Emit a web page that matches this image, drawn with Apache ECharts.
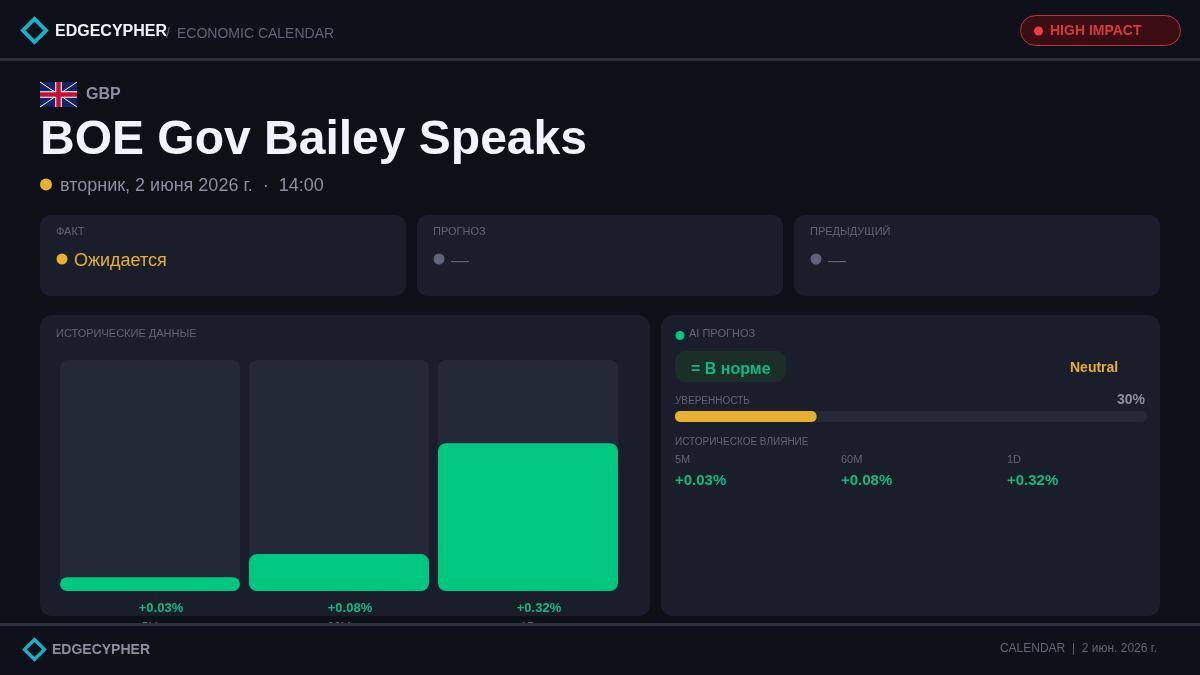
<!DOCTYPE html>
<html>
<head>
<meta charset="utf-8">
<script src="https://cdn.jsdelivr.net/npm/echarts@6/dist/echarts.min.js"></script>
<style>html,body{margin:0;padding:0;background:#0d1017}#c{width:1200px;height:675px}</style>
</head>
<body>
<div id="c"></div>
<script>
const periods = ['5M', '60M', '1D'];
const impactValues = [0.03, 0.08, 0.32];
const impactMax = 0.5;
const confidenceLabel = ['УВЕРЕННОСТЬ'];
const confidenceValues = [30];
const statLabels = ['ФАКТ', 'ПРОГНОЗ', 'ПРЕДЫДУЩИЙ'];
const statTexts = ['Ожидается', '—', '—'];

const FONT = '"Liberation Sans", Arial, sans-serif';
const fmt = v => '+' + v.toFixed(2) + '%';
const GREEN = '#00c880', GREENT = '#10b981', GOLD = '#e8b030', TEAL = '#12b5c9';
const MUTED = '#5f6575', SOFT = '#8b90a0', CARD = '#1a1e2a', TRACK = '#232937';

const txt = (text, x, y, size, fill, opt = {}) => ({
  type: 'text', z: opt.z || 5,
  style: { text, x, y: y + 1, fill, font: `${opt.bold ? 'bold ' : ''}${size}px ${FONT}`,
    textAlign: opt.align || 'left', textVerticalAlign: 'middle' }
});
const box = (x, y, width, height, r, fill, opt = {}) => ({
  type: 'rect', z: opt.z || 1, shape: { x, y, width, height, r },
  style: { fill, stroke: opt.stroke || null, lineWidth: opt.stroke ? 1 : 0 }
});
const dot = (cx, cy, r, fill) => ({ type: 'circle', z: 3, shape: { cx, cy, r }, style: { fill } });
const diamond = (cx, cy, h, lw, z) => ({
  type: 'polygon', z, shape: { points: [[cx, cy - h], [cx + h, cy], [cx, cy + h], [cx - h, cy]] },
  style: { fill: 'transparent', stroke: TEAL, lineWidth: lw, lineJoin: 'miter' }
});
const ln = (x1, y1, x2, y2, stroke, lineWidth) => ({
  type: 'line', z: 3, shape: { x1, y1, x2, y2 }, style: { stroke, lineWidth }
});

const flag = [
  box(40, 82, 37, 25, 0, '#14246b', { z: 2 }),
  ln(40, 82, 77, 107, '#ffffff', 1), ln(77, 82, 40, 107, '#ffffff', 1),
  ln(58.5, 82, 58.5, 107, '#ffffff', 6.5), ln(40, 94.5, 77, 94.5, '#ffffff', 6.5),
  ln(58.5, 82, 58.5, 107, '#c8102e', 4.5), ln(40, 94.5, 77, 94.5, '#c8102e', 4.5)
];

const statX = [40, 417, 794];
const stats = statX.flatMap((x, i) => [
  box(x, 215, 366, 81, 11, CARD),
  txt(statLabels[i], x + 16, 231, 11, MUTED),
  dot(x + 22, 259, 5.5, i === 0 ? GOLD : '#5f6578'),
  txt(statTexts[i], x + 34, 260, 18, i === 0 ? GOLD : MUTED)
]);

const histX = [675, 841, 1007];
const hist = periods.flatMap((p, i) => [
  txt(p, histX[i], 459, 11, MUTED),
  txt(fmt(impactValues[i]), histX[i], 480, 15, GREENT, { bold: true })
]);

const elements = [
  box(0, 0, 1200, 58, 0, '#0e1119', { z: 0 }),
  box(0, 58, 1200, 3, 0, '#2a2f3d', { z: 0 }),
  diamond(34.5, 30.5, 11.6, 3.8, 5),
  txt('EDGECYPHER', 55, 31, 16, '#f0f4ff', { bold: true }),
  txt('/', 166, 33, 14, MUTED),
  txt('ECONOMIC CALENDAR', 177, 33, 14, MUTED),
  box(1020.5, 15.5, 160, 30, 15, '#3a0e12', { stroke: '#b8323a' }),
  dot(1038.5, 31, 4.5, '#ef3a40'),
  txt('HIGH IMPACT', 1050, 30, 14, '#d63a3f', { bold: true }),
  ...flag,
  txt('GBP', 86, 93.5, 16, SOFT, { bold: true }),
  txt('BOE Gov Bailey Speaks', 40, 140, 48, '#f0f4ff', { bold: true }),
  dot(46, 184.5, 6, GOLD),
  txt('вторник, 2 июня 2026 г.  ·  14:00', 60, 185.5, 18, SOFT),
  ...stats,
  box(40, 315, 610, 301, 12, CARD),
  txt('ИСТОРИЧЕСКИЕ ДАННЫЕ', 56, 333, 11, MUTED),
  box(661, 315, 499, 301, 12, CARD),
  dot(680, 335.5, 4.5, GREEN),
  txt('AI ПРОГНОЗ', 689, 333, 11, MUTED),
  box(675, 351, 111, 31, 10, '#1b2e28', { z: 2 }),
  txt('= В норме', 691, 368.5, 16, GREENT, { bold: true }),
  txt('Neutral', 1070, 367.5, 14, GOLD, { bold: true }),
  txt(confidenceLabel[0], 675, 400, 10, MUTED),
  txt(confidenceValues[0] + '%', 1145, 399.5, 14, SOFT, { bold: true, align: 'right' }),
  txt('ИСТОРИЧЕСКОЕ ВЛИЯНИЕ', 675, 441, 10, MUTED),
  ...hist,
  box(0, 623, 1200, 52, 0, '#0e1119', { z: 100 }),
  box(0, 623, 1200, 3, 0, '#2a2f3d', { z: 101 }),
  diamond(34.5, 649.5, 10, 3.2, 102),
  txt('EDGECYPHER', 52, 649.5, 14, SOFT, { bold: true, z: 102 }),
  txt('CALENDAR  |  2 июн. 2026 г.', 1157, 648, 12, MUTED, { align: 'right', z: 102 })
];

const chart = echarts.init(document.getElementById('c'), null, { renderer: 'canvas' });
chart.setOption({
  animation: false,
  backgroundColor: '#0d1017',
  textStyle: { fontFamily: FONT },
  graphic: { elements },
  grid: [
    { left: 55.5, top: 360, width: 567, height: 231 },
    { left: 675, top: 411, width: 472, height: 11 }
  ],
  xAxis: [
    { type: 'category', gridIndex: 0, data: periods, axisLine: { show: false }, axisTick: { show: false },
      axisLabel: { color: MUTED, fontSize: 12, margin: 31, fontFamily: FONT } },
    { type: 'value', gridIndex: 1, min: 0, max: 100, show: false }
  ],
  yAxis: [
    { type: 'value', gridIndex: 0, min: 0, max: impactMax, show: false },
    { type: 'category', gridIndex: 1, data: confidenceLabel, show: false }
  ],
  series: [
    { type: 'bar', xAxisIndex: 0, yAxisIndex: 0, data: impactValues, barWidth: 180, z: 3,
      itemStyle: { color: GREEN, borderRadius: 8 },
      showBackground: true,
      backgroundStyle: { color: TRACK, borderRadius: 8 },
      label: { show: true, position: 'bottom', distance: 9, offset: [11, 2], color: GREENT,
        fontSize: 13, fontWeight: 'bold', fontFamily: FONT, formatter: p => fmt(p.value) } },
    { type: 'bar', xAxisIndex: 1, yAxisIndex: 1, data: confidenceValues, barWidth: 11, z: 3,
      itemStyle: { color: GOLD, borderRadius: 5 },
      showBackground: true,
      backgroundStyle: { color: TRACK, borderRadius: 5 } }
  ]
});
</script>
</body>
</html>
